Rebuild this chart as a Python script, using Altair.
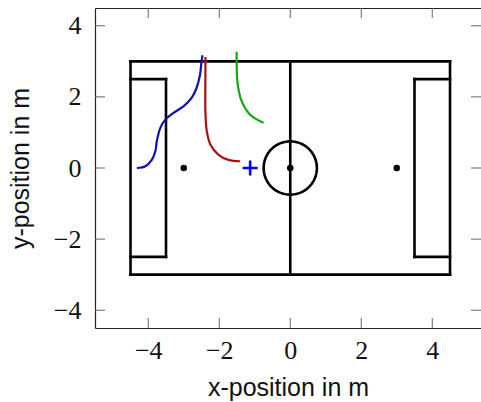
import altair as alt
import pandas as pd
import numpy as np

# ---- axis ticks ----
x_ticks = [-4, -2, 0, 2, 4]
y_ticks = [-4, -2, 0, 2, 4]
x_domain = [-5.5, 5.373]
y_domain = [-4.5, 4.5]

# ---- field line segments ----
seg_x1 = [-4.5, -4.5, -4.5, 4.5, 0.0, -4.5, -3.5, -4.5, 4.5, 3.5, 3.5]
seg_y1 = [-3.0, 3.0, -3.0, -3.0, -3.0, 2.5, 2.5, -2.5, 2.5, 2.5, -2.5]
seg_x2 = [4.5, 4.5, -4.5, 4.5, 0.0, -3.5, -3.5, -3.5, 3.5, 3.5, 4.5]
seg_y2 = [-3.0, 3.0, 3.0, 3.0, 3.0, 2.5, -2.5, -2.5, 2.5, -2.5, -2.5]

# ---- centre circle and spots ----
circle_r = 0.75
spot_x = [-3.0, 0.0, 3.0]
spot_y = [0.0, 0.0, 0.0]

# ---- trajectories ----
blue_x = [-4.32, -4.08, -3.90, -3.80, -3.76, -3.66, -3.52, -3.29, -3.0, -2.78, -2.64, -2.54, -2.50, -2.47]
blue_y = [0.0, 0.05, 0.23, 0.47, 0.75, 1.13, 1.36, 1.55, 1.74, 1.97, 2.25, 2.63, 3.0, 3.17]
red_x = [-2.39, -2.39, -2.39, -2.35, -2.25, -2.02, -1.74, -1.41]
red_y = [3.12, 2.53, 1.6, 1.03, 0.66, 0.37, 0.23, 0.19]
green_x = [-1.51, -1.51, -1.48, -1.37, -1.13, -0.75]
green_y = [3.27, 2.91, 2.35, 1.88, 1.50, 1.27]

# ---- target marker ----
target_x = [-1.13]
target_y = [0.0]

W, H = 386, 320
TICK = 10
LABEL_FONT = "Liberation Serif"
TITLE_FONT = "Liberation Sans"

xs = alt.Scale(domain=x_domain, nice=False, zero=False)
ys = alt.Scale(domain=y_domain, nice=False, zero=False)

seg_df = pd.DataFrame({"x": seg_x1, "y": seg_y1, "x2": seg_x2, "y2": seg_y2})

field = alt.Chart(seg_df).mark_rule(color="black", strokeWidth=2.6, strokeCap="square").encode(
    x=alt.X("x:Q", scale=xs, axis=alt.Axis(
        values=x_ticks, ticks=False, tickSize=0, grid=False, domain=True,
        domainColor="#222222", domainWidth=1.2,
        labelFont=LABEL_FONT, labelFontSize=26, labelColor="#111111", labelPadding=9,
        labelFlush=False,
        title="x-position in m", titleFont=TITLE_FONT, titleFontSize=25,
        titleFontWeight="normal", titleColor="#111111",
        titleX=W / 2, titleY=67, titleBaseline="alphabetic", titleAlign="center")),
    y=alt.Y("y:Q", scale=ys, axis=alt.Axis(
        values=y_ticks, ticks=False, tickSize=0, grid=False, domain=True,
        domainColor="#222222", domainWidth=1.2,
        labelFont=LABEL_FONT, labelFontSize=26, labelColor="#111111", labelPadding=14,
        labelFlush=False,
        title="y-position in m", titleFont=TITLE_FONT, titleFontSize=25,
        titleFontWeight="normal", titleColor="#111111", titleAngle=-90,
        titleX=-67, titleY=H / 2, titleBaseline="alphabetic", titleAlign="center")),
    x2="x2:Q",
    y2="y2:Q",
)

theta = np.linspace(0, 2 * np.pi, 121)
circ_df = pd.DataFrame({"x": circle_r * np.cos(theta), "y": circle_r * np.sin(theta), "i": np.arange(len(theta))})
circle = alt.Chart(circ_df).mark_line(color="black", strokeWidth=2.6).encode(
    x=alt.X("x:Q", scale=xs, axis=None),
    y=alt.Y("y:Q", scale=ys, axis=None),
    order="i:Q",
)

spots = alt.Chart(pd.DataFrame({"x": spot_x, "y": spot_y})).mark_point(
    shape="circle", filled=True, color="black", size=42, opacity=1
).encode(
    x=alt.X("x:Q", scale=xs, axis=None),
    y=alt.Y("y:Q", scale=ys, axis=None),
)


def traj(xv, yv, color):
    df = pd.DataFrame({"x": xv, "y": yv, "i": list(range(len(xv)))})
    return alt.Chart(df).mark_line(color=color, strokeWidth=2.2, interpolate="catmull-rom").encode(
        x=alt.X("x:Q", scale=xs, axis=None),
        y=alt.Y("y:Q", scale=ys, axis=None),
        order="i:Q",
    )


blue = traj(blue_x, blue_y, "#1010b0")
red = traj(red_x, red_y, "#a81010")
green = traj(green_x, green_y, "#10a810")

target = alt.Chart(pd.DataFrame({"x": target_x, "y": target_y})).mark_point(
    shape="M -1 0 L 1 0 M 0 -1 L 0 1", filled=False, color="#0000ff", size=225,
    strokeWidth=2.6, opacity=1
).encode(
    x=alt.X("x:Q", scale=xs, axis=None),
    y=alt.Y("y:Q", scale=ys, axis=None),
)

xt_df = pd.DataFrame({"v": x_ticks})
yt_df = pd.DataFrame({"v": y_ticks})
tick_style = dict(color="#666666", strokeWidth=1)

tick_bottom = alt.Chart(xt_df).mark_rule(**tick_style).encode(
    x=alt.X("v:Q", scale=xs, axis=alt.Axis(
        orient="top", labels=False, ticks=False, tickSize=0, grid=False,
        domain=True, domainColor="#222222", domainWidth=1.2, title=None)),
    y=alt.value(H), y2=alt.value(H - TICK),
)
tick_top = alt.Chart(xt_df).mark_rule(**tick_style).encode(
    x=alt.X("v:Q", scale=xs, axis=None),
    y=alt.value(0), y2=alt.value(TICK),
)
tick_left = alt.Chart(yt_df).mark_rule(**tick_style).encode(
    y=alt.Y("v:Q", scale=ys, axis=None),
    x=alt.value(0), x2=alt.value(TICK),
)
tick_right = alt.Chart(yt_df).mark_rule(**tick_style).encode(
    y=alt.Y("v:Q", scale=ys, axis=None),
    x=alt.value(W), x2=alt.value(W - TICK),
)

chart = alt.layer(
    field, circle, spots, blue, red, green, target,
    tick_bottom, tick_top, tick_left, tick_right,
).resolve_axis(x="independent", y="independent").properties(
    width=W, height=H,
    autosize=alt.AutoSizeParams(type="none"),
    padding={"left": 95, "top": 8, "right": 0, "bottom": 74},
    background="white",
).configure_view(stroke=None)

chart.save("out.html", embed_options={"renderer": "svg", "actions": False})
